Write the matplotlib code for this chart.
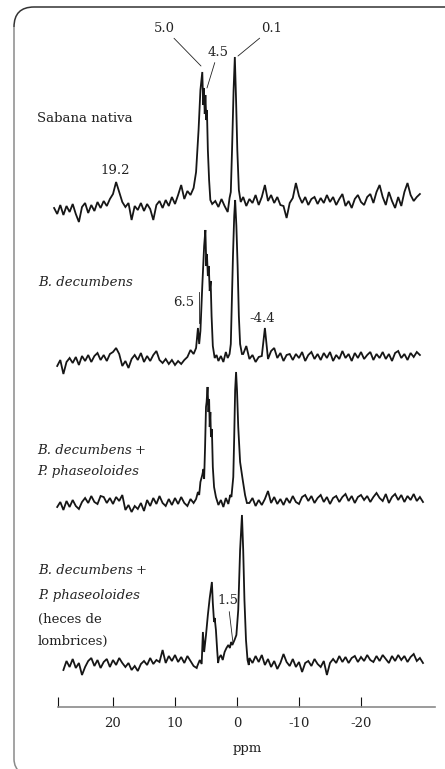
import numpy as np
import matplotlib.pyplot as plt
from matplotlib.path import Path
from matplotlib.patches import PathPatch
from matplotlib.transforms import IdentityTransform

plt.rcParams['font.family'] = ['DejaVu Serif']

# shared ppm sampling of the baselines
grid = np.round(np.arange(30.0, -30.1, -0.5), 2)

# ---- Sabana nativa
left_sab = [2, -4, 5, -5, 4, -2, 6, -4, -12, 3, 7, -3, 5, -1, 8, 2, 9, 4, 11, 16,
            28, 18, 8, 3, 7, -10, 4, 0, 7, -1, 6, 1, -10, 5, 9, 2, 10, 4, 13, 6,
            15, 25, 11, 19, 15, 22]
peak_ppm_sab = [6.6, 6.2, 5.9, 5.6, 5.45, 5.35, 5.2, 5.1, 4.95, 4.85, 4.7, 4.5, 4.3, 4.0,
                3.5, 3.0, 2.5, 2.0, 1.5, 1.2, 1.0, 0.8, 0.55, 0.35, 0.15, -0.05, -0.3, -0.6]
peak_int_sab = [38, 80, 120, 138, 105, 122, 96, 115, 90, 100, 60, 30, 10, 6,
                9, 3, 11, 4, -2, 12, 18, 60, 120, 153, 110, 60, 20, 8]
right_sab = [13, 4, 11, 7, 15, 5, 13, 25, 9, 15, 7, 13, 5, 4, -8, 7, 12, 27, 14, 7,
             13, 5, 11, 13, 6, 12, 7, 15, 8, 13, 5, 11, 16, 4, 9, 2, 11, 15, 8, 5,
             13, 16, 7, 18, 25, 13, 5, 18, 9, 2, 13, 4, 18, 27, 15, 9, 13, 16]

# ---- B. decumbens
left_dec = [0, 6, -8, 4, 8, 3, 9, 1, 10, 5, 11, 4, 10, 13, 6, 11, 5, 12, 14, 18,
            12, 0, 5, -2, 7, 11, 6, 13, 4, 10, 5, 11, 15, 6, 3, 7, 2, 6, 1, 5,
            2, 6, 9, 16]
peak_ppm_dec = [7.0, 6.6, 6.3, 6.1, 5.9, 5.6, 5.3, 5.1, 4.95, 4.85, 4.7, 4.55, 4.4, 4.25,
                4.1, 3.9, 3.6, 3.3, 3.0, 2.6, 2.2, 1.8, 1.5, 1.2, 1.0, 0.85, 0.65, 0.45,
                0.3, 0.1, -0.1, -0.3, -0.5, -0.8]
peak_int_dec = [12, 18, 38, 22, 35, 80, 120, 136, 100, 112, 90, 100, 75, 85,
                50, 20, 8, 11, 5, 10, 4, 14, 8, 12, 22, 60, 110, 150,
                166, 140, 100, 50, 22, 12]
right_dec = [12, 20, 7, 11, 4, 9, 10, 38, 7, 15, 18, 8, 13, 5, 11, 12, 6, 12, 8, 14,
             5, 11, 14, 7, 12, 6, 13, 8, 14, 5, 11, 7, 15, 8, 12, 5, 13, 8, 14, 7,
             11, 14, 6, 12, 8, 14, 7, 12, 5, 13, 15, 8, 12, 6, 13, 9, 14, 11]

# ---- B. decumbens + P. phaseoloides
left_pha = [0, 5, -3, 6, 0, 7, 1, -2, 5, 9, 4, 11, 5, 3, 11, 10, 4, 9, 3, 10,
            6, 12, -3, 2, -5, 1, -2, 4, -4, 7, 1, 9, 3, 11, 4, 1, 8, 2, 9, 3,
            10, 4, 1, 8, 4]
peak_ppm_pha = [6.6, 6.3, 6.1, 5.9, 5.6, 5.4, 5.3, 5.15, 5.0, 4.9, 4.75, 4.6, 4.5, 4.4,
                4.3, 4.2, 4.05, 3.9, 3.7, 3.4, 3.0, 2.6, 2.2, 1.8, 1.4, 1.1, 0.9, 0.6,
                0.45, 0.3, 0.15, 0.0, -0.2, -0.5, -0.9, -1.3, -1.6]
peak_int_pha = [8, 15, 12, 25, 32, 38, 28, 60, 100, 105, 120, 95, 108, 80,
                95, 70, 78, 40, 20, 10, 2, 7, 0, 9, 3, 12, 10, 30,
                70, 117, 135, 117, 80, 45, 28, 12, 4]
right_pha = [4, 9, 1, 7, 2, 8, 16, 4, 10, 3, 8, 2, 9, 4, 11, 5, 3, 10, 12, 6,
             11, 4, 9, 12, 5, 10, 3, 9, 11, 5, 10, 13, 6, 11, 4, 10, 12, 7, 11, 5,
             10, 14, 9, 6, 13, 4, 10, 13, 7, 12, 5, 11, 7, 13, 6, 10, 5]

# ---- B. decumbens + P. phaseoloides (heces de lombrices)
left_hec = [0, 9, 3, 11, 2, 7, -5, 3, 9, 12, 4, 10, 2, 8, 11, 3, 10, 5, 12, 7,
            3, 7, 0, 4, -1, 6, 9, 5, 12, 6, 10, 8, 20, 7, 14, 9, 15, 8, 13, 7,
            14, 9, 4, 2]
peak_ppm_hec = [6.4, 6.0, 5.7, 5.5, 5.3, 5.0, 4.7, 4.4, 4.05, 3.9, 3.7, 3.6, 3.4, 3.2,
                3.05, 2.9, 2.6, 2.3, 2.0, 1.7, 1.4, 1.15, 0.95, 0.75, 0.4, 0.1, -0.2,
                -0.5, -0.8, -1.0, -1.2, -1.45, -1.7, -1.9]
peak_int_hec = [4, 10, 6, 38, 18, 35, 55, 72, 88, 67, 48, 52, 40, 20,
                7, 12, 15, 10, 18, 22, 25, 22, 28, 25, 30, 35, 60,
                120, 155, 120, 70, 30, 10, 5]
right_hec = [12, 7, 14, 8, 15, 5, 11, 3, 9, 1, 7, 16, 8, 4, 11, 3, 8, -2, 7, 9,
             4, 11, 6, 3, 9, -5, 7, 11, 7, 14, 8, 13, 7, 12, 14, 8, 13, 9, 15, 10,
             8, 14, 9, 15, 11, 7, 14, 9, 15, 10, 14, 8, 13, 16, 9, 12, 7]

traces = [
    (left_sab, peak_ppm_sab, peak_int_sab, right_sab),
    (left_dec, peak_ppm_dec, peak_int_dec, right_dec),
    (left_pha, peak_ppm_pha, peak_int_pha, right_pha),
    (left_hec, peak_ppm_hec, peak_int_hec, right_hec),
]
baselines = [210, 366, 507, 670]   # vertical placement of each spectrum (px from top)

tick_ppm = [20, 10, 0, -10, -20]
tick_labels = ['20', '10', '0', '-10', '-20']


def build(left, pk_ppm, pk_int, right):
    above = grid[grid > pk_ppm[0] + 1e-6]
    below = grid[grid < pk_ppm[-1] - 1e-6]
    x = np.concatenate([above[len(above) - len(left):], pk_ppm, below[:len(right)]])
    y = np.concatenate([left, pk_int, right])
    return x, y


W, H = 445, 769
fig = plt.figure(figsize=(W / 100, H / 100), dpi=100)
ax = fig.add_axes([0, 0, 1, 1])
ax.set_facecolor('none')

PX0, PXS = 237, 6.2


def xppm(px):
    return (PX0 - px) / PXS


ax.set_xlim(xppm(0), xppm(W))
ax.set_ylim(H, 0)

for tr, y0 in zip(traces, baselines):
    x, inten = build(*tr)
    ax.plot(x, y0 - inten, color='#161616', lw=1.3, solid_joinstyle='miter')

# axis
for s in ['top', 'left', 'right']:
    ax.spines[s].set_visible(False)
ax.spines['bottom'].set_position(('data', 707))
ax.spines['bottom'].set_bounds(xppm(58), xppm(435))
ax.spines['bottom'].set_color('#8a8a8a')
ax.spines['bottom'].set_linewidth(1.2)
ax.set_xticks(tick_ppm)
ax.set_xticklabels(tick_labels)
ax.set_xticks([xppm(58)], minor=True)
ax.tick_params(axis='x', which='both', direction='in', length=7, width=0.8,
               color='#111111', pad=7, labelsize=9.5, labelcolor='#222222')
ax.set_yticks([])
ax.set_xlabel('ppm', fontsize=9.5, color='#222222')
ax.xaxis.set_label_coords(247 / W, 1 - 742 / H)

# sample labels
fs = 9.5
ax.text(xppm(37), 118, 'Sabana nativa', fontsize=fs, va='center', color='#222222')
ax.text(xppm(38), 283, 'B. decumbens', fontsize=fs, style='italic', va='center', color='#222222')
t3 = ax.text(xppm(37), 450, 'B. decumbens', fontsize=fs, style='italic', va='center', color='#222222')
ax.annotate('+', xy=(1, 0.5), xycoords=t3, xytext=(2, 0), textcoords='offset points',
            va='center', fontsize=fs, color='#222222')
ax.text(xppm(37), 472, 'P. phaseoloides', fontsize=fs, style='italic', va='center', color='#222222')
t4 = ax.text(xppm(38), 570, 'B. decumbens', fontsize=fs, style='italic', va='center', color='#222222')
ax.annotate('+', xy=(1, 0.5), xycoords=t4, xytext=(2, 0), textcoords='offset points',
            va='center', fontsize=fs, color='#222222')
ax.text(xppm(38), 595, 'P. phaseoloides', fontsize=fs, style='italic', va='center', color='#222222')
ax.text(xppm(38), 619, '(heces de', fontsize=fs, va='center', color='#222222')
ax.text(xppm(38), 641, 'lombrices)', fontsize=fs, va='center', color='#222222')

# peak labels
lead = dict(arrowstyle='-', lw=0.6, color='#222222', shrinkA=1, shrinkB=0)
ax.annotate('5.0', xy=(xppm(201), 66), xytext=(xppm(164), 28), ha='center', va='center',
            fontsize=fs, color='#222222', arrowprops=lead)
ax.annotate('4.5', xy=(xppm(207), 88), xytext=(xppm(218), 52), ha='center', va='center',
            fontsize=fs, color='#222222', arrowprops=lead)
ax.annotate('0.1', xy=(xppm(238), 56), xytext=(xppm(272), 28), ha='center', va='center',
            fontsize=fs, color='#222222', arrowprops=lead)
ax.text(xppm(115), 170, '19.2', fontsize=fs, ha='center', va='center', color='#222222')
ax.text(xppm(184), 303, '6.5', fontsize=fs, ha='center', va='center', color='#222222')
ax.plot([xppm(199), xppm(199)], [292, 323], color='#222222', lw=0.6)
ax.text(xppm(262), 319, '-4.4', fontsize=fs, ha='center', va='center', color='#222222')
ax.annotate('1.5', xy=(xppm(233), 643), xytext=(xppm(228), 601), ha='center', va='center',
            fontsize=fs, color='#222222', arrowprops=lead)

# rounded frame (top and left sides only)
top = Path([(W + 2, H - 7), (34, H - 7), (14, H - 7), (14, H - 27)],
           [Path.MOVETO, Path.LINETO, Path.CURVE3, Path.CURVE3])
side = Path([(14, H - 27), (14, 10), (14, 1), (21, -4)],
            [Path.MOVETO, Path.LINETO, Path.CURVE3, Path.CURVE3])
fig.add_artist(PathPatch(top, transform=IdentityTransform(), fill=False,
                         edgecolor='#333333', lw=1.1))
fig.add_artist(PathPatch(side, transform=IdentityTransform(), fill=False,
                         edgecolor='#8a8a8a', lw=1.1))

fig.savefig('out.png', dpi=100)
